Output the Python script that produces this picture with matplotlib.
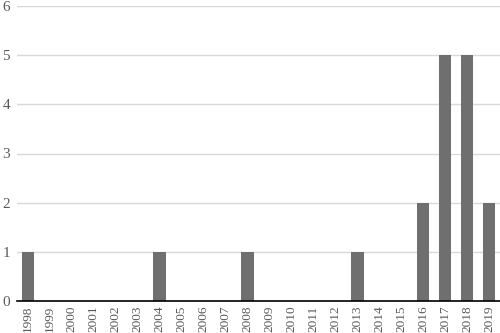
import matplotlib
matplotlib.use("Agg")
import matplotlib.pyplot as plt

years = [str(y) for y in range(1998, 2020)]
counts = [1, 0, 0, 0, 0, 0, 1, 0, 0, 0, 1, 0, 0, 0, 0, 1, 0, 0, 2, 5, 5, 2]
yticks = [0, 1, 2, 3, 4, 5, 6]

plt.rcParams['font.family'] = ['Liberation Serif', 'DejaVu Serif']

fig = plt.figure(figsize=(5.0, 3.33), dpi=100)
ax = fig.add_axes([17/500, 1 - 301/333, (500-17)/500, (301-6)/333])

x = list(range(len(years)))
ax.bar(x, counts, width=0.57, color='#6f6f6f', zorder=3)
ax.set_xlim(-0.5, len(years) - 0.5)
ax.set_ylim(0, 6)
ax.set_yticks(yticks)
ax.set_xticks(x)
ax.set_xticklabels(years, rotation=90, fontsize=9.5, color='#595959')
ax.tick_params(axis='y', labelsize=11, colors='#595959', length=0, pad=5)
ax.tick_params(axis='x', length=0, pad=3.5)
ax.yaxis.grid(True, color='#d9d9d9', linewidth=1, zorder=0)
for s in ['top', 'right', 'left']:
    ax.spines[s].set_visible(False)
ax.spines['bottom'].set_color('#000000')
ax.spines['bottom'].set_linewidth(1.2)
ax.spines['bottom'].set_zorder(4)

fig.savefig('out.png', dpi=100)
